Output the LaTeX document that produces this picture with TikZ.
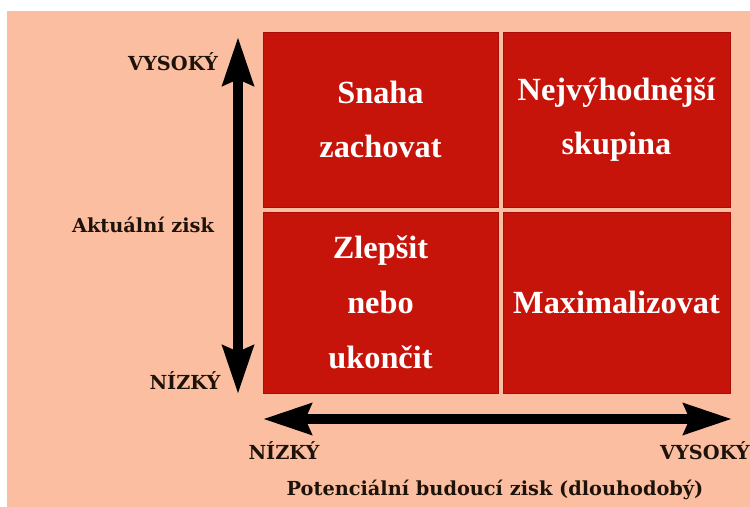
\documentclass[tikz,border=0pt]{standalone}
\usepackage{fontspec}
\setmainfont{Liberation Serif}
\newfontfamily\axisfont{DejaVu Serif}
\usepackage{tikz}
\usetikzlibrary{arrows.meta,positioning}
\definecolor{peach}{RGB}{252,190,160}
\definecolor{boxred}{RGB}{198,20,10}
\definecolor{boxedge}{RGB}{170,14,8}

\begin{document}
\begin{tikzpicture}[
    x=0.03cm, y=-0.03cm,
    quadrant/.style={
		rectangle,
		fill=boxred,
		draw=boxedge,
		line width=0.6pt,
		text=white,
		align=center,
		inner sep=0pt,
		font=\bfseries\fontsize{27.6}{46.8}\selectfont
	},
	axislabel/.style={
		text=black!85!brown,
		inner sep=0pt,
		font=\axisfont\bfseries\fontsize{16.5}{18}\selectfont
	},
	bigarrow/.style={
		line width=8.5pt,
		{Stealth[length=41pt,width=26pt,inset=5pt]}-{Stealth[length=41pt,width=26pt,inset=5pt]}
	}
  ]
    \useasboundingbox (0,0) rectangle (750,507);
    \fill[peach] (7,11) rectangle (750,507);

    % We start by placing the blocks
    \node [quadrant, minimum width=235*0.03cm, minimum height=175*0.03cm] (keep) at (380.5,119.5)
    {Snaha\\zachovat};
    \node [quadrant, minimum width=227*0.03cm, minimum height=175*0.03cm] (best) at (616.5,119.5)
    {Nejvýhodnější\\skupina};
    \node [quadrant, minimum width=235*0.03cm, minimum height=181*0.03cm] (improve) at (380.5,302.5)
    {Zlepšit\\nebo\\ukončit};
    \node [quadrant, minimum width=227*0.03cm, minimum height=181*0.03cm] (maximize) at (616.5,302.5)
    {Maximalizovat};

    % arrow ends
    \coordinate (ytop) at (238,37);
    \coordinate (ybot) at (238,394);
    \coordinate (xleft) at (263,419);
    \coordinate (xright) at (732,419);

    \draw [bigarrow] (ytop) -- (ybot);
    \draw [bigarrow] (xleft) -- (xright);

    % labels
    \node [axislabel] (yhigh) at (173,62) {VYSOKÝ};
    \node [axislabel] (ytitle) at (143,225) {Aktuální zisk};
    \node [axislabel] (ylow) at (185,381) {NÍZKÝ};
    \node [axislabel] (xlow) at (284,451) {NÍZKÝ};
    \node [axislabel, anchor=east] (xhigh) at (750,451) {VYSOKÝ};
    \node [axislabel] (xtitle) at (495,490) {Potenciální budoucí zisk (dlouhodobý)};
\end{tikzpicture}
\end{document}
